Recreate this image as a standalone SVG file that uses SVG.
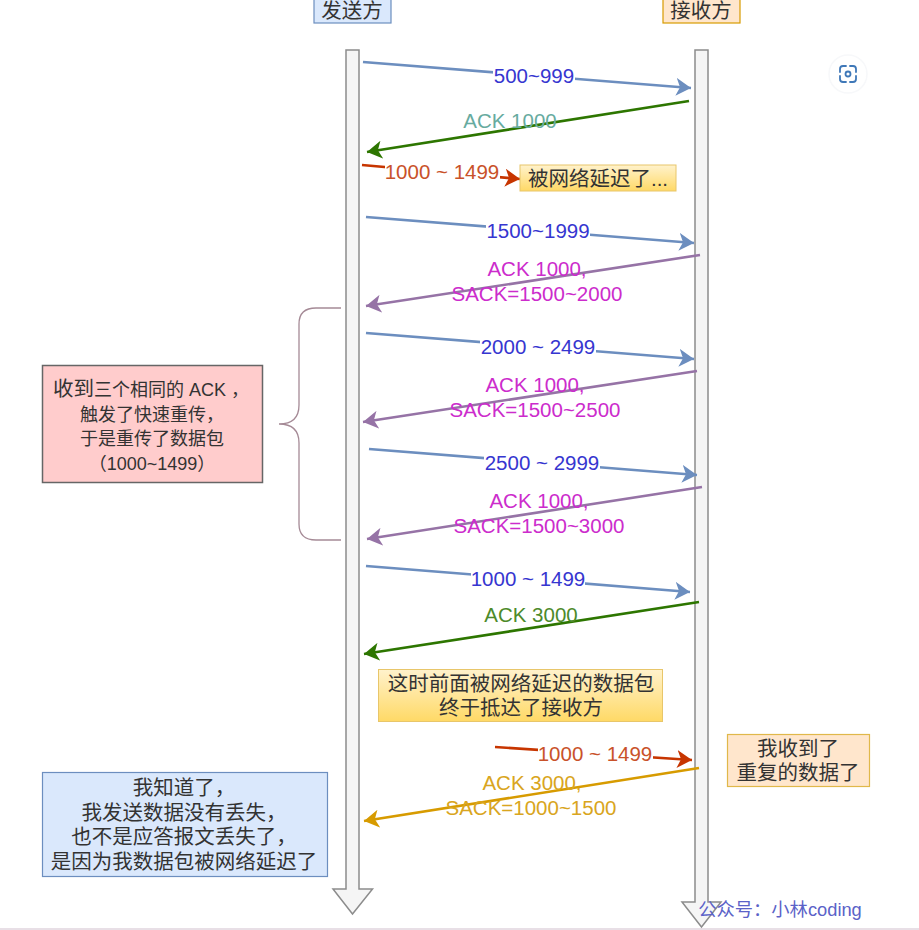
<svg xmlns="http://www.w3.org/2000/svg" width="919" height="930" viewBox="0 0 919 930">
<style>
text{font-family:"Liberation Sans","Noto Sans CJK SC",sans-serif;font-size:20.500px;text-anchor:middle}
.cn{fill:#333}
.blue{fill:#3636d0}
.mag{fill:#cc2ccc}
.red{fill:#c9522a}
.life{fill:#f5f5f5;stroke:#8c8c8c;stroke-width:1.500}
.c{fill:none;stroke-width:2.600}
.gap{fill:#fff}
</style>
<defs>
<marker id="aBlue" markerUnits="userSpaceOnUse" markerWidth="16" markerHeight="18" refX="15" refY="9" orient="auto"><path d="M0 0L15 9L0 18L4 9Z" fill="#6c8ebf"/></marker>
<marker id="aGreen" markerUnits="userSpaceOnUse" markerWidth="16" markerHeight="18" refX="15" refY="9" orient="auto"><path d="M0 0L15 9L0 18L4 9Z" fill="#2d7600"/></marker>
<marker id="aRed" markerUnits="userSpaceOnUse" markerWidth="16" markerHeight="18" refX="15" refY="9" orient="auto"><path d="M0 0L15 9L0 18L4 9Z" fill="#c73500"/></marker>
<marker id="aPurple" markerUnits="userSpaceOnUse" markerWidth="16" markerHeight="18" refX="15" refY="9" orient="auto"><path d="M0 0L15 9L0 18L4 9Z" fill="#9673a6"/></marker>
<marker id="aGold" markerUnits="userSpaceOnUse" markerWidth="16" markerHeight="18" refX="15" refY="9" orient="auto"><path d="M0 0L15 9L0 18L4 9Z" fill="#d79b00"/></marker>
<linearGradient id="note" x1="0" y1="0" x2="0" y2="1"><stop offset="0" stop-color="#fff2cc"/><stop offset="1" stop-color="#ffd966"/></linearGradient>
</defs>

<rect width="919" height="930" fill="#fff"/>
<rect x="0" y="928" width="919" height="2" fill="#e8dfe6"/>

<!-- lifelines -->
<g id="sender-line"><path class="life" d="M346 50H359V889H372.500L352.500 914L333 889H346Z"/></g>
<g id="receiver-line"><path class="life" d="M695 50H708V902H721L701.500 927L682 902H695Z"/></g>

<!-- party headers -->
<g id="sender"><rect x="314" y="-2" width="77" height="25" fill="#dae8fc" stroke="#6c8ebf" stroke-width="1.200"/><text class="cn" x="352" y="18">发送方</text></g>
<g id="receiver"><rect x="663" y="-2" width="77" height="25" fill="#ffe6cc" stroke="#d79b00" stroke-width="1.200"/><text class="cn" x="701" y="18">接收方</text></g>

<!-- connectors -->
<g id="connectors">
<path class="c" stroke="#6c8ebf" d="M363 62L691 88" marker-end="url(#aBlue)"/>
<path class="c" stroke="#2d7600" d="M689 101L367 152" marker-end="url(#aGreen)"/>
<path class="c" stroke="#c73500" d="M362 165L520 179" marker-end="url(#aRed)"/>
<path class="c" stroke="#6c8ebf" d="M366 217L694 243" marker-end="url(#aBlue)"/>
<path class="c" stroke="#9673a6" d="M700 255L366 306" marker-end="url(#aPurple)"/>
<path class="c" stroke="#6c8ebf" d="M366 333L694 359" marker-end="url(#aBlue)"/>
<path class="c" stroke="#9673a6" d="M697 371L363 422" marker-end="url(#aPurple)"/>
<path class="c" stroke="#6c8ebf" d="M369 449L697 475" marker-end="url(#aBlue)"/>
<path class="c" stroke="#9673a6" d="M702 487L367 539" marker-end="url(#aPurple)"/>
<path class="c" stroke="#6c8ebf" d="M366 566L690 592" marker-end="url(#aBlue)"/>
<path class="c" stroke="#2d7600" d="M699 602L364 654" marker-end="url(#aGreen)"/>
<path class="c" stroke="#c73500" d="M495 747L692 760" marker-end="url(#aRed)"/>
<path class="c" stroke="#d79b00" d="M699 768L364 821" marker-end="url(#aGold)"/>
<path fill="none" stroke="#a58a96" stroke-width="1.300" d="M341 308H316Q299 308 299 324V405Q299 424 279 424Q299 424 299 443V524Q299 540 316 540H341"/>
</g>

<!-- connector labels -->
<g id="labels">
<rect class="gap" x="493" y="64" width="82" height="24"/><text class="blue" x="534" y="83">500~999</text>
<text x="510" y="128" fill="#67ab9f">ACK 1000</text>
<rect class="gap" x="385" y="160" width="115" height="24"/><text class="red" x="442" y="179">1000 ~ 1499</text>
<rect class="gap" x="486" y="218" width="104" height="24"/><text class="blue" x="538" y="238">1500~1999</text>
<text class="mag" x="537" y="276">ACK 1000,</text><text class="mag" x="537" y="301">SACK=1500~2000</text>
<rect class="gap" x="480" y="335" width="116" height="24"/><text class="blue" x="538" y="354">2000 ~ 2499</text>
<text class="mag" x="535" y="392">ACK 1000,</text><text class="mag" x="535" y="417">SACK=1500~2500</text>
<rect class="gap" x="484" y="451" width="116" height="24"/><text class="blue" x="542" y="470">2500 ~ 2999</text>
<text class="mag" x="539" y="508">ACK 1000,</text><text class="mag" x="539" y="533">SACK=1500~3000</text>
<rect class="gap" x="471" y="567" width="114" height="24"/><text class="blue" x="528" y="586">1000 ~ 1499</text>
<text x="531" y="622" fill="#4d8a2a">ACK 3000</text>
<rect class="gap" x="538" y="742" width="115" height="24"/><text class="red" x="595" y="761">1000 ~ 1499</text>
<text x="532" y="790" fill="#d9a520">ACK 3000,</text><text x="531" y="815" fill="#d9a520">SACK=1000~1500</text>
</g>

<!-- notes -->
<g id="note-delayed"><rect x="520" y="165" width="156" height="26" fill="url(#note)" stroke="#e8c66a"/><text class="cn" x="598" y="186">被网络延迟了...</text></g>
<g id="note-retransmit"><rect x="42.500" y="365.500" width="220" height="117" fill="#ffcccc" stroke="#666" stroke-width="1.500"/>
<text class="cn" x="151" y="396" style="font-size:18px"><tspan style="font-size:20.500px">收到</tspan>三个相同的 ACK ，</text>
<text class="cn" x="152" y="421" style="font-size:18px">触发了快速重传，</text>
<text class="cn" x="152" y="445" style="font-size:18px">于是重传了数据包</text>
<text class="cn" x="152" y="470" style="font-size:18px">（1000~1499）</text></g>
<g id="note-arrived"><rect x="378.500" y="669.500" width="284" height="52" fill="url(#note)" stroke="#e8c66a"/><text class="cn" x="521" y="691">这时前面被网络延迟的数据包</text><text class="cn" x="521" y="715">终于抵达了接收方</text></g>
<g id="note-duplicate"><rect x="727.500" y="734.500" width="142" height="52" fill="#ffe6cc" stroke="#e0b84a" stroke-width="1.200"/><text class="cn" x="798" y="756">我收到了</text><text class="cn" x="798" y="780">重复的数据了</text></g>
<g id="note-conclusion"><rect x="42.500" y="772.500" width="285" height="104" fill="#dae8fc" stroke="#6c8ebf" stroke-width="1.200"/>
<text class="cn" x="184" y="795">我知道了，</text><text class="cn" x="184" y="820">我发送数据没有丢失，</text><text class="cn" x="184" y="844">也不是应答报文丢失了，</text><text class="cn" x="184" y="869">是因为我数据包被网络延迟了</text></g>

<!-- watermark -->
<text x="780" y="916" fill="#5b62c8" style="font-size:18.300px">公众号：小林coding</text>

<!-- lens button -->
<g id="lens"><circle cx="848" cy="74" r="19" fill="#fff" stroke="#f7f8fa" stroke-width="1.500"/>
<path fill="none" stroke="#3f78b8" stroke-width="1.800" stroke-linecap="round" d="M840 72V69Q840 66 843 66H846M850 66H853Q856 66 856 69V72M856 76V79Q856 82 853 82H850M846 82H843Q840 82 840 79V76"/><circle cx="848" cy="74" r="2.500" fill="none" stroke="#3f78b8" stroke-width="1.800"/></g>
</svg>
